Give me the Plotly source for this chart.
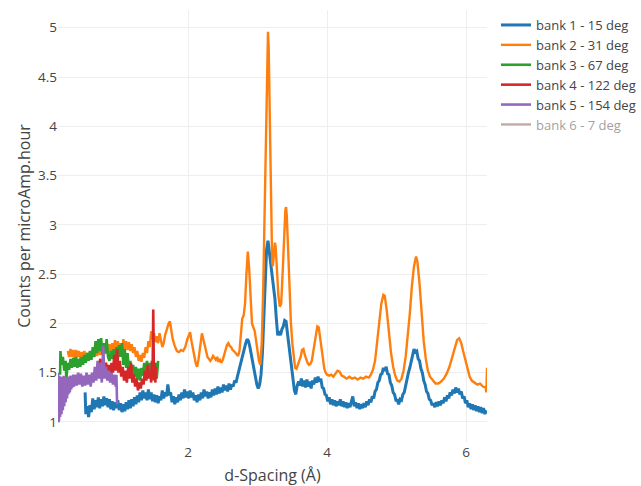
import plotly.graph_objects as go

# ---------------- data ----------------
bank1_d = [0.52, 0.53, 0.55, 0.57, 0.59, 0.61, 0.63, 0.65, 0.67, 0.69, 0.71, 0.73, 0.75, 0.77, 0.79,
           0.81, 0.83, 0.85, 0.87, 0.89, 0.91, 0.93, 0.95, 0.97, 0.99, 1.01, 1.03, 1.05, 1.07, 1.09,
           1.11, 1.13, 1.15, 1.17, 1.19, 1.21, 1.23, 1.25, 1.27, 1.29, 1.31, 1.33, 1.35, 1.37, 1.39,
           1.41, 1.43, 1.45, 1.47, 1.49, 1.51, 1.53, 1.55, 1.57, 1.59, 1.61, 1.63, 1.65, 1.67, 1.69,
           1.71, 1.73, 1.75, 1.77, 1.79, 1.81, 1.83, 1.85, 1.87, 1.89, 1.91, 1.93, 1.95, 1.97, 1.99,
           2.01, 2.03, 2.05, 2.07, 2.09, 2.11, 2.13, 2.15, 2.17, 2.19, 2.21, 2.23, 2.25, 2.27, 2.29,
           2.31, 2.33, 2.35, 2.37, 2.39, 2.41, 2.43, 2.45, 2.47, 2.49, 2.51, 2.53, 2.55, 2.57, 2.59,
           2.61, 2.63, 2.65, 2.67, 2.69, 2.71, 2.73, 2.75, 2.77, 2.79, 2.81, 2.83, 2.85, 2.87, 2.89,
           2.91, 2.93, 2.95, 2.97, 2.99, 3.01, 3.03, 3.05, 3.07, 3.09, 3.11, 3.13, 3.15, 3.17, 3.19,
           3.21, 3.23, 3.25, 3.27, 3.29, 3.31, 3.33, 3.35, 3.37, 3.39, 3.41, 3.43, 3.45, 3.47, 3.49,
           3.51, 3.53, 3.55, 3.57, 3.59, 3.61, 3.63, 3.65, 3.67, 3.69, 3.71, 3.73, 3.75, 3.77, 3.79,
           3.81, 3.83, 3.85, 3.87, 3.89, 3.91, 3.93, 3.95, 3.97, 3.99, 4.01, 4.03, 4.05, 4.07, 4.09,
           4.11, 4.13, 4.15, 4.17, 4.19, 4.21, 4.23, 4.25, 4.27, 4.29, 4.31, 4.33, 4.35, 4.37, 4.39,
           4.41, 4.43, 4.45, 4.47, 4.49, 4.51, 4.53, 4.55, 4.57, 4.59, 4.61, 4.63, 4.65, 4.67, 4.69,
           4.71, 4.73, 4.75, 4.77, 4.79, 4.81, 4.83, 4.85, 4.87, 4.89, 4.91, 4.93, 4.95, 4.97, 4.99,
           5.01, 5.03, 5.05, 5.07, 5.09, 5.11, 5.13, 5.15, 5.17, 5.19, 5.21, 5.23, 5.25, 5.27, 5.29,
           5.31, 5.33, 5.35, 5.37, 5.39, 5.41, 5.43, 5.45, 5.47, 5.49, 5.51, 5.53, 5.55, 5.57, 5.59,
           5.61, 5.63, 5.65, 5.67, 5.69, 5.71, 5.73, 5.75, 5.77, 5.79, 5.81, 5.83, 5.85, 5.87, 5.89,
           5.91, 5.93, 5.95, 5.97, 5.99, 6.01, 6.03, 6.05, 6.07, 6.09, 6.11, 6.13, 6.15, 6.17, 6.19,
           6.21, 6.23, 6.25, 6.27, 6.29]
bank1_counts = [1.30, 1.08, 1.16, 1.05, 1.17, 1.10, 1.24, 1.13, 1.22, 1.15, 1.25, 1.14, 1.23, 1.16, 1.26,
                1.17, 1.24, 1.15, 1.23, 1.13, 1.21, 1.12, 1.20, 1.14, 1.22, 1.12, 1.19, 1.10, 1.18, 1.11,
                1.20, 1.13, 1.22, 1.14, 1.23, 1.16, 1.25, 1.18, 1.27, 1.20, 1.30, 1.22, 1.32, 1.24, 1.30,
                1.22, 1.33, 1.23, 1.30, 1.21, 1.28, 1.20, 1.27, 1.19, 1.26, 1.22, 1.32, 1.24, 1.30, 1.26,
                1.38, 1.27, 1.30, 1.20, 1.26, 1.18, 1.25, 1.20, 1.28, 1.22, 1.30, 1.24, 1.33, 1.25, 1.31,
                1.24, 1.32, 1.25, 1.30, 1.22, 1.27, 1.20, 1.28, 1.22, 1.30, 1.24, 1.33, 1.26, 1.31, 1.24,
                1.30, 1.25, 1.33, 1.27, 1.34, 1.28, 1.36, 1.29, 1.35, 1.30, 1.38, 1.32, 1.37, 1.31, 1.39,
                1.33, 1.38, 1.36, 1.42, 1.40, 1.46, 1.52, 1.58, 1.62, 1.70, 1.76, 1.80, 1.84, 1.82, 1.76,
                1.68, 1.58, 1.50, 1.44, 1.38, 1.34, 1.38, 1.48, 1.70, 2.05, 2.45, 2.75, 2.84, 2.72, 2.60,
                2.50, 2.38, 2.25, 2.05, 1.88, 1.92, 1.88, 1.94, 1.97, 2.03, 2.02, 1.90, 1.78, 1.62, 1.50,
                1.40, 1.32, 1.28, 1.37, 1.41, 1.37, 1.44, 1.36, 1.42, 1.35, 1.43, 1.36, 1.41, 1.34, 1.42,
                1.38, 1.45, 1.40, 1.46, 1.41, 1.44, 1.35, 1.34, 1.28, 1.27, 1.21, 1.25, 1.18, 1.23, 1.17,
                1.22, 1.16, 1.21, 1.17, 1.23, 1.16, 1.21, 1.15, 1.20, 1.14, 1.19, 1.15, 1.21, 1.26, 1.16,
                1.20, 1.14, 1.19, 1.13, 1.18, 1.14, 1.19, 1.15, 1.21, 1.17, 1.23, 1.20, 1.26, 1.24, 1.31,
                1.33, 1.40, 1.42, 1.48, 1.49, 1.55, 1.52, 1.56, 1.49, 1.48, 1.40, 1.37, 1.30, 1.28, 1.22,
                1.22, 1.18, 1.23, 1.22, 1.28, 1.30, 1.38, 1.42, 1.50, 1.55, 1.62, 1.68, 1.74, 1.71, 1.72,
                1.64, 1.62, 1.54, 1.50, 1.42, 1.38, 1.31, 1.29, 1.23, 1.22, 1.17, 1.19, 1.15, 1.20, 1.16,
                1.21, 1.17, 1.22, 1.19, 1.25, 1.21, 1.27, 1.24, 1.30, 1.27, 1.33, 1.29, 1.35, 1.30, 1.34,
                1.28, 1.31, 1.24, 1.26, 1.19, 1.22, 1.15, 1.19, 1.13, 1.18, 1.12, 1.17, 1.11, 1.16, 1.10,
                1.15, 1.09, 1.14, 1.08, 1.12]

bank2_d = [0.27, 0.29, 0.31, 0.33, 0.35, 0.37, 0.39, 0.41, 0.43, 0.45, 0.47, 0.49, 0.51, 0.53, 0.55,
           0.57, 0.59, 0.61, 0.63, 0.65, 0.67, 0.69, 0.71, 0.73, 0.75, 0.77, 0.79, 0.81, 0.83, 0.85,
           0.87, 0.89, 0.91, 0.93, 0.95, 0.97, 0.99, 1.01, 1.03, 1.05, 1.07, 1.09, 1.11, 1.13, 1.15,
           1.17, 1.19, 1.21, 1.23, 1.25, 1.27, 1.29, 1.31, 1.33, 1.35, 1.37, 1.39, 1.41, 1.43, 1.45,
           1.47, 1.49, 1.51, 1.53, 1.55, 1.57, 1.59, 1.61, 1.63, 1.65, 1.67, 1.70, 1.72, 1.74, 1.76,
           1.78, 1.81, 1.84, 1.87, 1.90, 1.93, 1.96, 1.99, 2.01, 2.03, 2.05, 2.07, 2.09, 2.11, 2.13,
           2.15, 2.17, 2.19, 2.20, 2.22, 2.24, 2.26, 2.28, 2.30, 2.32, 2.34, 2.36, 2.38, 2.40, 2.42,
           2.44, 2.46, 2.48, 2.50, 2.52, 2.54, 2.56, 2.58, 2.60, 2.62, 2.64, 2.66, 2.68, 2.70, 2.72,
           2.74, 2.76, 2.78, 2.80, 2.82, 2.84, 2.86, 2.88, 2.90, 2.92, 2.94, 2.96, 2.98, 3.00, 3.02,
           3.04, 3.06, 3.08, 3.10, 3.12, 3.14, 3.15, 3.16, 3.18, 3.20, 3.21, 3.22, 3.24, 3.25, 3.26,
           3.28, 3.30, 3.32, 3.34, 3.36, 3.38, 3.40, 3.41, 3.42, 3.44, 3.46, 3.48, 3.50, 3.52, 3.54,
           3.56, 3.58, 3.60, 3.62, 3.64, 3.66, 3.68, 3.70, 3.72, 3.74, 3.76, 3.78, 3.80, 3.82, 3.84,
           3.86, 3.88, 3.90, 3.92, 3.94, 3.96, 3.98, 4.00, 4.03, 4.06, 4.09, 4.12, 4.15, 4.18, 4.21,
           4.24, 4.28, 4.32, 4.36, 4.40, 4.44, 4.48, 4.52, 4.56, 4.60, 4.63, 4.66, 4.69, 4.72, 4.75,
           4.78, 4.81, 4.83, 4.86, 4.89, 4.92, 4.95, 4.98, 5.01, 5.04, 5.07, 5.10, 5.13, 5.16, 5.19,
           5.22, 5.25, 5.28, 5.30, 5.33, 5.36, 5.39, 5.42, 5.45, 5.48, 5.52, 5.56, 5.60, 5.64, 5.68,
           5.72, 5.76, 5.80, 5.84, 5.87, 5.90, 5.93, 5.96, 5.99, 6.02, 6.05, 6.08, 6.12, 6.16, 6.20,
           6.24, 6.28, 6.29, 6.30]
bank2_counts = [1.72, 1.66, 1.74, 1.66, 1.73, 1.65, 1.73, 1.66, 1.72, 1.64, 1.71, 1.65, 1.72, 1.64, 1.70,
                1.64, 1.71, 1.65, 1.73, 1.66, 1.74, 1.67, 1.76, 1.68, 1.77, 1.69, 1.76, 1.69, 1.78, 1.70,
                1.79, 1.71, 1.80, 1.72, 1.83, 1.73, 1.82, 1.72, 1.80, 1.71, 1.84, 1.74, 1.82, 1.73, 1.81,
                1.72, 1.79, 1.70, 1.76, 1.66, 1.72, 1.62, 1.68, 1.61, 1.70, 1.65, 1.76, 1.70, 1.82, 1.76,
                1.92, 1.84, 1.90, 1.81, 1.87, 1.80, 1.90, 1.82, 1.76, 1.80, 1.88, 1.95, 2.00, 2.02, 1.92,
                1.84, 1.77, 1.72, 1.71, 1.73, 1.72, 1.76, 1.84, 1.88, 1.91, 1.82, 1.74, 1.66, 1.60, 1.56,
                1.63, 1.74, 1.86, 1.90, 1.84, 1.77, 1.71, 1.66, 1.64, 1.62, 1.64, 1.67, 1.65, 1.63, 1.66,
                1.61, 1.63, 1.60, 1.63, 1.68, 1.73, 1.78, 1.80, 1.77, 1.76, 1.73, 1.72, 1.70, 1.68, 1.67,
                1.72, 1.90, 2.05, 2.08, 2.20, 2.50, 2.73, 2.55, 2.20, 2.00, 1.96, 1.92, 1.82, 1.72, 1.62,
                1.58, 1.80, 2.30, 3.00, 3.90, 4.70, 4.96, 4.80, 3.90, 2.90, 2.62, 2.58, 2.72, 2.82, 2.78,
                2.50, 2.28, 2.17, 2.20, 2.50, 2.90, 3.15, 3.18, 3.10, 2.75, 2.30, 2.00, 1.80, 1.63, 1.55,
                1.54, 1.58, 1.62, 1.66, 1.73, 1.74, 1.68, 1.63, 1.60, 1.58, 1.59, 1.62, 1.70, 1.80, 1.90,
                1.97, 1.96, 1.84, 1.72, 1.62, 1.54, 1.50, 1.48, 1.47, 1.48, 1.46, 1.49, 1.52, 1.51, 1.47,
                1.46, 1.44, 1.46, 1.44, 1.45, 1.43, 1.45, 1.44, 1.46, 1.45, 1.48, 1.53, 1.62, 1.80, 2.00,
                2.20, 2.29, 2.28, 2.12, 1.90, 1.70, 1.56, 1.47, 1.42, 1.41, 1.44, 1.52, 1.66, 1.86, 2.10,
                2.38, 2.58, 2.68, 2.62, 2.40, 2.08, 1.82, 1.64, 1.52, 1.46, 1.42, 1.39, 1.39, 1.41, 1.44,
                1.49, 1.56, 1.65, 1.76, 1.83, 1.85, 1.80, 1.71, 1.62, 1.53, 1.46, 1.42, 1.40, 1.38, 1.39,
                1.36, 1.35, 1.30, 1.55]

bank3_d = [0.16, 0.165, 0.18, 0.20, 0.22, 0.24, 0.25, 0.27, 0.29, 0.31, 0.33, 0.35, 0.37, 0.39, 0.41,
           0.43, 0.45, 0.47, 0.49, 0.51, 0.53, 0.55, 0.57, 0.59, 0.61, 0.63, 0.65, 0.67, 0.69, 0.71,
           0.73, 0.75, 0.77, 0.79, 0.81, 0.83, 0.85, 0.87, 0.89, 0.91, 0.93, 0.95, 0.97, 0.99, 1.01,
           1.03, 1.05, 1.07, 1.09, 1.11, 1.13, 1.15, 1.17, 1.19, 1.21, 1.23, 1.25, 1.27, 1.29, 1.31,
           1.33, 1.35, 1.37, 1.39, 1.41, 1.43, 1.45, 1.47, 1.49, 1.51, 1.53, 1.55, 1.57]
bank3_counts = [1.48, 1.72, 1.58, 1.66, 1.52, 1.62, 1.43, 1.60, 1.53, 1.64, 1.55, 1.65, 1.56, 1.66, 1.55,
                1.64, 1.56, 1.66, 1.58, 1.68, 1.60, 1.70, 1.62, 1.72, 1.63, 1.76, 1.66, 1.82, 1.70, 1.84,
                1.72, 1.85, 1.68, 1.80, 1.70, 1.84, 1.66, 1.62, 1.72, 1.64, 1.74, 1.62, 1.76, 1.64, 1.78,
                1.66, 1.80, 1.58, 1.74, 1.55, 1.70, 1.53, 1.62, 1.50, 1.58, 1.46, 1.56, 1.43, 1.54, 1.42,
                1.55, 1.47, 1.60, 1.50, 1.62, 1.52, 1.60, 1.50, 1.58, 1.48, 1.60, 1.44, 1.62]

bank4_d = [0.72, 0.74, 0.76, 0.78, 0.80, 0.82, 0.84, 0.86, 0.88, 0.90, 0.92, 0.94, 0.96, 0.98, 1.00,
           1.02, 1.04, 1.06, 1.08, 1.10, 1.12, 1.14, 1.16, 1.18, 1.20, 1.22, 1.24, 1.26, 1.28, 1.30,
           1.32, 1.34, 1.36, 1.38, 1.40, 1.42, 1.44, 1.46, 1.47, 1.48, 1.49, 1.50, 1.51, 1.52, 1.53,
           1.54]
bank4_counts = [1.58, 1.64, 1.56, 1.62, 1.54, 1.60, 1.52, 1.58, 1.48, 1.60, 1.50, 1.68, 1.52, 1.74, 1.50,
                1.62, 1.46, 1.56, 1.42, 1.52, 1.40, 1.56, 1.44, 1.60, 1.40, 1.48, 1.36, 1.44, 1.32, 1.40,
                1.34, 1.44, 1.38, 1.52, 1.42, 1.58, 1.44, 1.52, 1.40, 1.62, 1.45, 2.14, 1.42, 1.60, 1.40,
                1.56]

bank5_d = [0.13, 0.135, 0.14, 0.145, 0.15, 0.16, 0.17, 0.18, 0.19, 0.20, 0.21, 0.22, 0.23, 0.24, 0.25,
           0.26, 0.27, 0.28, 0.29, 0.30, 0.31, 0.32, 0.33, 0.34, 0.35, 0.36, 0.38, 0.40, 0.42, 0.44,
           0.46, 0.48, 0.50, 0.52, 0.54, 0.56, 0.58, 0.60, 0.62, 0.64, 0.66, 0.68, 0.70, 0.72, 0.74,
           0.76, 0.78, 0.80, 0.82, 0.84, 0.86, 0.88, 0.90, 0.92, 0.94, 0.96, 0.97, 0.98]
bank5_counts = [1.50, 1.00, 1.48, 1.02, 1.47, 1.05, 1.46, 1.08, 1.45, 1.12, 1.47, 1.16, 1.46, 1.20, 1.45,
                1.24, 1.44, 1.28, 1.46, 1.30, 1.47, 1.33, 1.45, 1.35, 1.48, 1.36, 1.48, 1.37, 1.50, 1.38,
                1.49, 1.36, 1.47, 1.37, 1.50, 1.38, 1.48, 1.36, 1.50, 1.40, 1.56, 1.42, 1.62, 1.44, 1.60,
                1.40, 1.77, 1.44, 1.56, 1.42, 1.52, 1.40, 1.50, 1.38, 1.48, 1.36, 1.48, 1.18]

bank6_d = [1.0, 2.0, 3.0, 4.0, 5.0, 6.0]
bank6_counts = [1.3, 1.3, 1.4, 1.3, 1.3, 1.2]

names = ["bank 1 - 15 deg", "bank 2 - 31 deg", "bank 3 - 67 deg",
         "bank 4 - 122 deg", "bank 5 - 154 deg", "bank 6 - 7 deg"]
colors = ["#1f77b4", "#ff7f0e", "#2ca02c", "#d62728", "#9467bd", "#8c564b"]
widths = [3.0, 2.4, 2.6, 2.6, 2.6, 2.4]

series = [(bank1_d, bank1_counts), (bank2_d, bank2_counts), (bank3_d, bank3_counts),
          (bank4_d, bank4_counts), (bank5_d, bank5_counts), (bank6_d, bank6_counts)]

fig = go.Figure()
for i, ((xs, ys), nm, c, w) in enumerate(zip(series, names, colors, widths)):
    fig.add_trace(go.Scatter(
        x=xs, y=ys, mode="lines", name=nm,
        line=dict(color=c, width=w),
        visible="legendonly" if i == 5 else True,
    ))

font_family = "Open Sans, verdana, arial, sans-serif"
fig.update_layout(
    template="none",
    width=641, height=486,
    margin=dict(l=58, r=154, t=10, b=44, autoexpand=False),
    paper_bgcolor="white", plot_bgcolor="white",
    font=dict(family=font_family, size=13.5, color="#444"),
    showlegend=True,
    legend=dict(xref="container", yref="container", x=496 / 641, y=1 - 10 / 486,
                xanchor="left", yanchor="top", font=dict(size=13)),
    xaxis=dict(range=[0.13, 6.30], dtick=2, tick0=0, showgrid=True, gridcolor="#eee",
               zeroline=False, showline=False, ticks="", automargin=False,
               title=dict(text="d-Spacing (Å)", font=dict(size=16))),
    yaxis=dict(range=[0.797, 5.18], dtick=0.5, tick0=0, showgrid=True, gridcolor="#eee",
               zeroline=False, showline=False, ticks="", automargin=True,
               title=dict(text="Counts per microAmp.hour", font=dict(size=16), standoff=3)),
)

fig.write_html("out.html")
